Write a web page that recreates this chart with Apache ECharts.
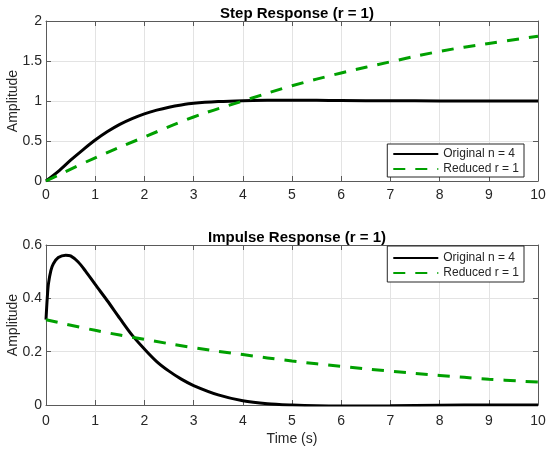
<!DOCTYPE html>
<html>
<head>
<meta charset="utf-8">
<script src="https://cdn.jsdelivr.net/npm/echarts@6/dist/echarts.min.js"></script>
<style>
  html, body { margin: 0; padding: 0; background: #fff; }
  #chart { width: 550px; height: 452px; }
</style>
</head>
<body>
<div id="chart"></div>
<script>
// step response, original model n = 4
const tStepOrig = [0, 0.25, 0.5, 0.75, 1, 1.25, 1.5, 1.75, 2, 2.25, 2.5, 2.75, 3, 3.5, 4, 4.5, 5, 5.5, 6, 7, 8, 9, 10];
const stepOrig = [0, 0.12, 0.26, 0.39, 0.512, 0.618, 0.708, 0.78, 0.84, 0.886, 0.923, 0.951, 0.972, 0.993, 1.004, 1.008, 1.009, 1.008, 1.006, 1.003, 1.001, 1.0, 1.0];

// step response, reduced model r = 1
const tRed = [0, 1, 2, 3, 4, 5, 6, 7, 8, 9, 10];
const stepRed = [0, 0.29, 0.55, 0.8, 1.0, 1.19, 1.35, 1.49, 1.62, 1.72, 1.81];

// impulse response, original model
const tImpOrig = [0, 0.025, 0.05, 0.1, 0.15, 0.25, 0.4, 0.5, 0.65, 0.8, 1, 1.25, 1.5, 1.75, 2, 2.25, 2.5, 2.75, 3, 3.5, 4, 4.5, 5, 5.5, 6, 7, 8, 9, 10];
const impOrig = [0.32, 0.40, 0.455, 0.505, 0.53, 0.553, 0.562, 0.559, 0.537, 0.503, 0.452, 0.39, 0.325, 0.262, 0.21, 0.163, 0.127, 0.097, 0.073, 0.038, 0.016, 0.005, 0.0, -0.003, -0.004, -0.003, -0.001, 0, 0];

// impulse response, reduced model
const impRed = [0.32, 0.28, 0.246, 0.215, 0.189, 0.165, 0.145, 0.127, 0.111, 0.097, 0.086];

const xTicks = [0, 10, 1];
const yTicksStep = [0, 2, 0.5];
const yTicksImp = [0, 0.6, 0.2];

const nameOrig = 'Original n = 4';
const nameRed = 'Reduced r = 1';

const zip = (xs, ys) => xs.map((x, i) => [x, ys[i]]);

const font = 'Liberation Sans, Arial, Helvetica, sans-serif';
const boxColor = '#5a5a5a';
const textColor = '#262626';
const green = '#00a000';

function mainX(gridIndex, withName, margin) {
  return {
    type: 'value', gridIndex,
    min: xTicks[0], max: xTicks[1], interval: xTicks[2],
    name: withName ? 'Time (s)' : '',
    nameLocation: 'middle', nameGap: 27, nameMoveOverlap: false,
    nameTextStyle: { fontFamily: font, fontSize: 14, color: textColor },
    axisLine: { show: true, onZero: false, lineStyle: { color: boxColor, width: 1 } },
    axisTick: { show: true, inside: true, length: 5, lineStyle: { color: boxColor } },
    axisLabel: { fontFamily: font, fontSize: 14, color: textColor, margin },
    splitLine: { show: true, lineStyle: { color: '#e3e3e3', width: 1 } }
  };
}
function sideX(gridIndex) {
  return {
    type: 'value', gridIndex, position: 'top',
    min: xTicks[0], max: xTicks[1], interval: xTicks[2],
    axisLine: { show: true, onZero: false, lineStyle: { color: boxColor, width: 1 } },
    axisTick: { show: true, inside: true, length: 5, lineStyle: { color: boxColor } },
    axisLabel: { show: false },
    splitLine: { show: false }
  };
}
function mainY(gridIndex, ticks) {
  return {
    type: 'value', gridIndex,
    min: ticks[0], max: ticks[1], interval: ticks[2],
    name: 'Amplitude', nameLocation: 'middle', nameGap: 26, nameMoveOverlap: false,
    nameTextStyle: { fontFamily: font, fontSize: 14, color: textColor },
    axisLine: { show: true, onZero: false, lineStyle: { color: boxColor, width: 1 } },
    axisTick: { show: true, inside: true, length: 5, lineStyle: { color: boxColor } },
    axisLabel: { fontFamily: font, fontSize: 14, color: textColor, margin: 4 },
    splitLine: { show: true, lineStyle: { color: '#e3e3e3', width: 1 } }
  };
}
function sideY(gridIndex, ticks) {
  return {
    type: 'value', gridIndex, position: 'right',
    min: ticks[0], max: ticks[1], interval: ticks[2],
    axisLine: { show: true, onZero: false, lineStyle: { color: boxColor, width: 1 } },
    axisTick: { show: true, inside: true, length: 5, lineStyle: { color: boxColor } },
    axisLabel: { show: false },
    splitLine: { show: false }
  };
}

const blackLine = { color: '#000000', width: 3 };
const greenLine = { color: green, width: 3, type: [12, 10] };

function legend(top, padding) {
  return {
    data: [nameOrig, nameRed],
    orient: 'vertical',
    right: 26, top,
    itemWidth: 45, itemHeight: 14, itemGap: 3,
    padding,
    borderColor: textColor, borderWidth: 1, borderRadius: 0,
    backgroundColor: '#ffffff',
    itemStyle: { opacity: 0, borderWidth: 0 },
    textStyle: { fontFamily: font, fontSize: 12, color: textColor }
  };
}

const chart = echarts.init(document.getElementById('chart'));
const option = {
  animation: false,
  title: [
    { text: 'Step Response (r = 1)', left: 292, top: 1, textAlign: 'center',
      textStyle: { fontFamily: font, fontSize: 15, fontWeight: 'bold', color: '#000' } },
    { text: 'Impulse Response (r = 1)', left: 292, top: 225, textAlign: 'center',
      textStyle: { fontFamily: font, fontSize: 15, fontWeight: 'bold', color: '#000' } }
  ],
  grid: [
    { left: 46, right: 12, top: 21, height: 160, containLabel: false, outerBoundsMode: 'none' },
    { left: 46, right: 12, top: 245, height: 160, containLabel: false, outerBoundsMode: 'none' }
  ],
  legend: [legend(144, [4, 5, 2, 5]), legend(246, [6, 5, 3, 5])],
  xAxis: [mainX(0, false, 7), sideX(0), mainX(1, true, 9), sideX(1)],
  yAxis: [mainY(0, yTicksStep), sideY(0, yTicksStep), mainY(1, yTicksImp), sideY(1, yTicksImp)],
  series: [
    { name: nameOrig, type: 'line', xAxisIndex: 0, yAxisIndex: 0, data: zip(tStepOrig, stepOrig),
      smooth: 0.3, showSymbol: false, symbol: 'none', lineStyle: blackLine, itemStyle: { color: '#000' }, z: 3 },
    { name: nameRed, type: 'line', xAxisIndex: 0, yAxisIndex: 0, data: zip(tRed, stepRed),
      smooth: 0.4, showSymbol: false, symbol: 'none', lineStyle: greenLine, itemStyle: { color: green }, z: 4 },
    { name: nameOrig, type: 'line', xAxisIndex: 2, yAxisIndex: 2, data: zip(tImpOrig, impOrig),
      smooth: 0.3, showSymbol: false, symbol: 'none', lineStyle: blackLine, itemStyle: { color: '#000' }, z: 3 },
    { name: nameRed, type: 'line', xAxisIndex: 2, yAxisIndex: 2, data: zip(tRed, impRed),
      smooth: 0.4, showSymbol: false, symbol: 'none', lineStyle: greenLine, itemStyle: { color: green }, z: 4 }
  ]
};
chart.setOption(option);
</script>
</body>
</html>
